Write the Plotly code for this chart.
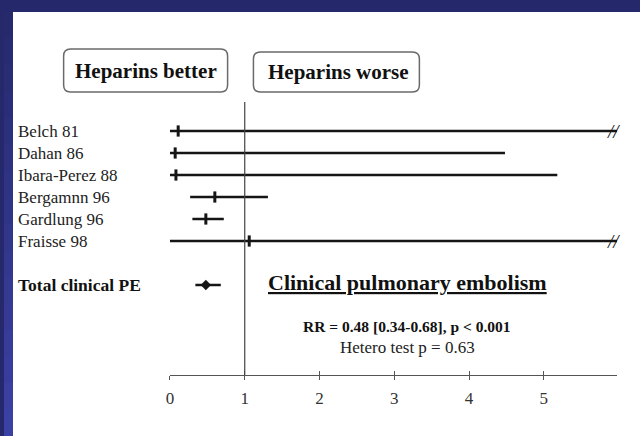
import plotly.graph_objects as go

# ---- data -------------------------------------------------------------
studies = ["Belch 81", "Dahan 86", "Ibara-Perez 88", "Bergamnn 96", "Gardlung 96", "Fraisse 98"]
rr = [0.11, 0.07, 0.08, 0.60, 0.48, 1.06]
ci_low = [0.0, 0.0, 0.0, 0.27, 0.30, 0.0]
ci_high = [5.98, 4.48, 5.18, 1.31, 0.72, 5.98]
truncated = [True, False, False, False, False, True]

total_label = "Total clinical PE"
total_rr = 0.48
total_low = 0.34
total_high = 0.68

tick_values = [0, 1, 2, 3, 4, 5]
tick_labels = ["0", "1", "2", "3", "4", "5"]

title_text = "Clinical pulmonary embolism"
stat_text = "RR = 0.48 [0.34-0.68], p < 0.001"
hetero_text = "Hetero test p = 0.63"
left_header = "Heparins better"
right_header = "Heparins worse"

# ---- layout helpers ---------------------------------------------------
W, H = 640, 436
SERIF = "Liberation Serif, Times New Roman, serif"
INK = "#151515"


def px(x):
    return x / W


def py(y):
    return 1 - y / H


def rounded_box(x0, y0, x1, y1, r):
    rx, ry = r / W, r / H
    X0, X1, Y0, Y1 = px(x0), px(x1), py(y0), py(y1)
    return (f"M {X0 + rx},{Y0} L {X1 - rx},{Y0} Q {X1},{Y0} {X1},{Y0 - ry} "
            f"L {X1},{Y1 + ry} Q {X1},{Y1} {X1 - rx},{Y1} "
            f"L {X0 + rx},{Y1} Q {X0},{Y1} {X0},{Y1 + ry} "
            f"L {X0},{Y0 - ry} Q {X0},{Y0} {X0 + rx},{Y0} Z")


def label(x, y, text, size, color="#111", xref="paper", yref="paper", xanchor="center"):
    return dict(x=x, y=y, xref=xref, yref=yref, text=text, showarrow=False,
                xanchor=xanchor, yanchor="middle", borderpad=0,
                font=dict(family=SERIF, size=size, color=color))


rows = list(range(len(studies)))
total_row = len(studies) + 1

fig = go.Figure()

# study estimates with confidence intervals
fig.add_trace(go.Scatter(
    x=rr, y=rows, mode="markers",
    marker=dict(symbol="line-ns", size=8, line=dict(width=3, color=INK), color=INK),
    error_x=dict(type="data", symmetric=False,
                 array=[h - m for h, m in zip(ci_high, rr)],
                 arrayminus=[m - l for m, l in zip(rr, ci_low)],
                 width=0, thickness=2.6, color=INK),
    cliponaxis=False, showlegend=False, hoverinfo="skip",
))

# pooled estimate
fig.add_trace(go.Scatter(
    x=[total_rr], y=[total_row], mode="markers",
    marker=dict(symbol="diamond", size=8, color=INK),
    error_x=dict(type="data", symmetric=False,
                 array=[total_high - total_rr], arrayminus=[total_rr - total_low],
                 width=0, thickness=2.4, color=INK),
    cliponaxis=False, showlegend=False, hoverinfo="skip",
))

# companion axis that only supplies the upward half of the tick marks
fig.add_trace(go.Scatter(x=[0], y=[0], xaxis="x2", mode="markers",
                         marker=dict(opacity=0), showlegend=False, hoverinfo="skip"))

shapes = []
# blue frame and white slide area
shapes.append(dict(type="rect", xref="paper", yref="paper", x0=px(9), x1=1, y0=0, y1=py(12),
                   fillcolor="white", line=dict(width=0), layer="below"))
n_strip = 16
c_top, c_bot = (37, 41, 107), (60, 65, 166)
for i in range(n_strip):
    t = (i + 0.5) / n_strip
    col = tuple(int(round(a + (b - a) * t)) for a, b in zip(c_top, c_bot))
    shapes.append(dict(type="rect", xref="paper", yref="paper",
                       x0=0, x1=px(9), y0=py(12 + (H - 12) * (i + 1) / n_strip) - 0.002,
                       y1=py(12 + (H - 12) * i / n_strip),
                       fillcolor=f"rgb{col}", line=dict(width=0), layer="below"))

# line of no effect
shapes.append(dict(type="line", xref="x", yref="y domain", x0=1, x1=1, y0=0, y1=1,
                   line=dict(color="#444", width=1.2)))

# header boxes
shapes.append(dict(type="path", xref="paper", yref="paper",
                   path=rounded_box(60, 49, 225, 92, 7),
                   line=dict(color="#6a6a6a", width=1.5)))
shapes.append(dict(type="path", xref="paper", yref="paper",
                   path=rounded_box(251, 52, 418, 92, 7),
                   line=dict(color="#6a6a6a", width=1.5)))

annotations = []
for r, name in zip(rows, studies):
    annotations.append(label(px(13), r, name, 17, "#222", yref="y", xanchor="left"))
annotations.append(label(px(13), total_row, f"<b>{total_label}</b>", 17.5, "#111",
                         yref="y", xanchor="left"))

# break marks on intervals running off the scale
for r, hi, cut in zip(rows, ci_high, truncated):
    if cut:
        annotations.append(label(hi - 0.05, r, "<i>//</i>", 19, INK, xref="x", yref="y"))

annotations += [
    label(px(142.5), py(71), f"<b>{left_header}</b>", 21),
    label(px(337), py(72), f"<b>{right_header}</b>", 21),
    label(px(406), py(282), f"<b><u>{title_text}</u></b>", 22),
    label(px(406), py(326), f"<b>{stat_text}</b>", 15.5),
    label(px(406.5), py(347), hetero_text, 17, "#222"),
]

x_domain = [px(167), px(617)]
x_range = [0, 5.98]

fig.update_layout(
    width=W, height=H,
    margin=dict(l=0, r=0, t=0, b=0),
    paper_bgcolor="rgb(37,41,107)",
    plot_bgcolor="rgba(0,0,0,0)",
    shapes=shapes,
    annotations=annotations,
    xaxis=dict(domain=x_domain, range=x_range, anchor="y",
               showline=True, linecolor="#555", linewidth=1.2,
               ticks="outside", ticklen=4, tickwidth=1.2, tickcolor="#555",
               tickvals=tick_values, ticktext=tick_labels, ticklabelstandoff=3,
               tickfont=dict(family=SERIF, size=17, color="#333"),
               showgrid=False, zeroline=False, fixedrange=True),
    xaxis2=dict(domain=x_domain, range=x_range, anchor="y", overlaying="x", side="bottom",
                showline=False, ticks="inside", ticklen=4, tickwidth=1.2, tickcolor="#555",
                tickvals=tick_values, showticklabels=False,
                showgrid=False, zeroline=False, fixedrange=True),
    yaxis=dict(domain=[py(375), py(102)],
               range=[(375 - 131) / 22, (102 - 131) / 22],
               visible=False, showgrid=False, zeroline=False, fixedrange=True),
    showlegend=False,
)

fig.write_html("out.html")
